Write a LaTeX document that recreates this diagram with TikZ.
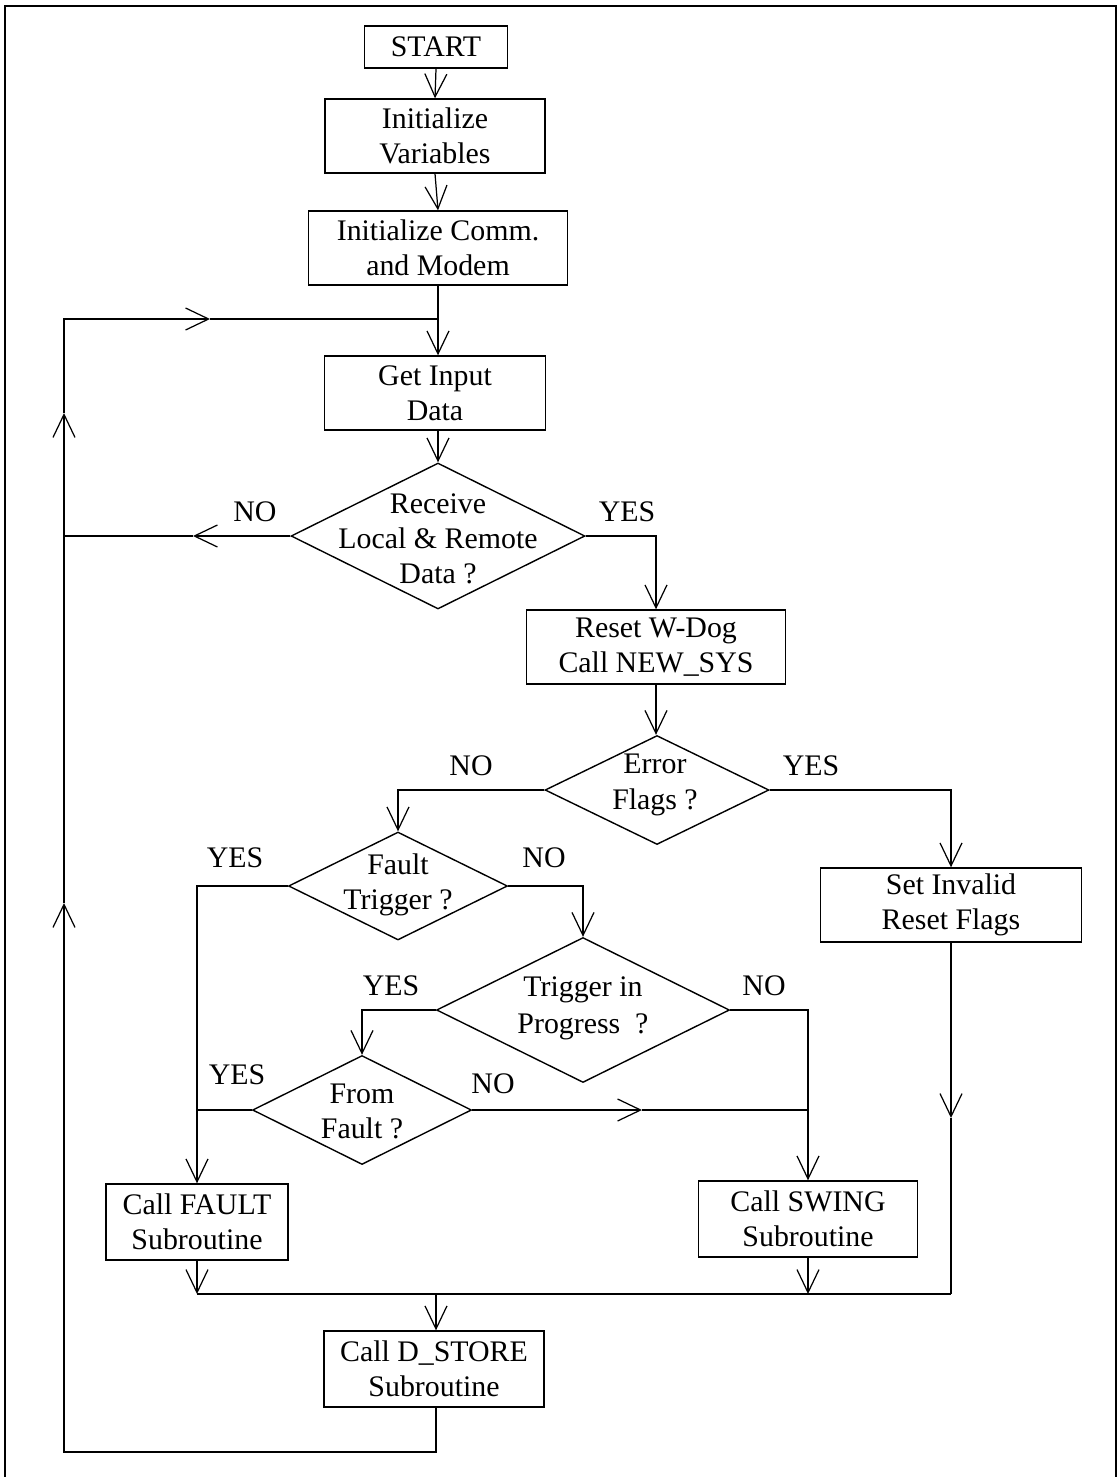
\documentclass[tikz,border=0pt]{standalone}
\usepackage{fontspec}
\setmainfont{Liberation Serif}
\usetikzlibrary{arrows.meta,shapes.geometric}

\begin{document}
\begin{tikzpicture}[
  x=0.02cm,y=-0.02cm,
  font=\fontsize{17}{20}\selectfont,
  line/.style={line width=0.7pt, draw=black},
  flow/.style={line, -{Straight Barb[length=4.6mm,width=4.4mm]}},
  box/.style={draw, line width=0.8pt, align=center, inner sep=2pt,
    minimum height=1.48cm},
  decision/.style={draw, line width=0.8pt, shape=diamond, inner sep=0pt},
  dtext/.style={align=center},
  answer/.style={}
]

% Frame and page
\useasboundingbox (0,0) rectangle (1118,1477);
\draw[line width=0.9pt] (5,1485) -- (5,6) -- (1116,6) -- (1116,1485);

% Start-up
\node[box, minimum width=2.86cm, minimum height=0.84cm] (start) at (436,47) {START};
\node[box, minimum width=4.40cm] (initvar) at (435,136) {Initialize\\Variables};
\node[box, minimum width=5.18cm] (initcomm) at (438,248) {Initialize Comm.\\and Modem};
\node[box, minimum width=4.42cm] (getinput) at (435,393) {Get Input\\Data};

\draw[flow] (start.south) -- (initvar.north);
\draw[flow] (initvar.south) -- (initcomm.south |- initcomm.north);
\draw[flow] (initcomm.south) -- (initcomm.south |- getinput.north);

% Receive test
\node[decision, minimum width=5.88cm, minimum height=2.92cm] (receive) at (438,536) {};
\node[dtext] (receivetxt) at (438,539) {Receive\\Local \& Remote\\Data ?};
\node[answer] (recvno) at (255,512) {NO};
\node[answer] (recvyes) at (627,512) {YES};
\draw[flow] (getinput.south -| initcomm.south) -- (receive.north);

\node[box, minimum width=5.18cm] (resetdog) at (656,647) {Reset W-Dog\\Call NEW\_SYS};
\draw[flow] (receive.east) -| (resetdog.north);

% Error flags
\node[decision, minimum width=4.48cm, minimum height=2.18cm] (errflags) at (657,790) {};
\node[dtext] (errflagstxt) at (655,785) {Error\\Flags ?};
\node[answer] (errno) at (471,766) {NO};
\node[answer] (erryes) at (811,766) {YES};
\draw[flow] (resetdog.south) -- (resetdog.south |- errflags.north);

\node[box, minimum width=5.22cm] (setinvalid) at (951,905) {Set Invalid\\Reset Flags};
\draw[flow] (errflags.east) -| (setinvalid.north);

% Fault trigger
\node[decision, minimum width=4.38cm, minimum height=2.16cm] (faulttrig) at (398,886) {};
\node[dtext] (faulttrigtxt) at (398,885) {Fault\\Trigger ?};
\node[answer] (ftyes) at (235,858) {YES};
\node[answer] (ftno) at (544,858) {NO};
\draw[flow] (errflags.west) -| (faulttrig.north);

% Trigger in progress
\node[decision, minimum width=5.86cm, minimum height=2.90cm] (trigprog) at (583,1010) {};
\node[dtext] (trigprogtxt) at (583,1008) {Trigger in\\[1pt]Progress\enspace ?};
\node[answer] (tpyes) at (391,986) {YES};
\node[answer] (tpno) at (764,986) {NO};
\draw[flow] (faulttrig.east) -| (trigprog.north);

% From fault
\node[decision, minimum width=4.38cm, minimum height=2.18cm] (fromfault) at (362,1110) {};
\node[dtext] (fromfaulttxt) at (362,1111) {From\\Fault ?};
\node[answer] (ffyes) at (237,1075) {YES};
\node[answer] (ffno) at (493,1084) {NO};
\draw[flow] (trigprog.west) -| (fromfault.north);

% Subroutines
\node[box, minimum width=3.64cm, minimum height=1.52cm] (callfault) at (197,1222) {Call FAULT\\Subroutine};
\node[box, minimum width=4.38cm, minimum height=1.52cm] (callswing) at (808,1219) {Call SWING\\Subroutine};
\node[box, minimum width=4.40cm, minimum height=1.52cm] (dstore) at (434,1369) {Call D\_STORE\\Subroutine};

\draw[flow] (faulttrig.west) -| (callfault.north);
\draw[line] (fromfault.west) -- (fromfault.west -| callfault.north);
\draw[flow] (trigprog.east) -| (callswing.north);

\coordinate (nofault) at (642,1110);
\draw[flow] (fromfault.east) -- (nofault);
\draw[line] (nofault) -- (nofault -| callswing.north);

% Merge into D_STORE
\coordinate (merge) at (436,1294);
\coordinate (sidetip) at (951,1118);
\draw[flow] (callfault.south) -- (callfault.south |- merge);
\draw[flow] (callswing.south) -- (callswing.south |- merge);
\draw[flow] (setinvalid.south) -- (sidetip);
\draw[line] (sidetip) -- (sidetip |- merge);
\draw[line] (callfault.south |- merge) -- (setinvalid.south |- merge);
\draw[flow] (merge) -- (merge |- dstore.north);

% Return loop
\coordinate (loopbl) at (64,1452);
\coordinate (looptl) at (64,319);
\coordinate (uptipA) at (64,903);
\coordinate (uptipB) at (64,413);
\coordinate (righttip) at (210,319);
\coordinate (lefttip) at (193,536);
\draw[flow] (dstore.south -| merge) |- (loopbl) -- (uptipA);
\draw[flow] (uptipA) -- (uptipB);
\draw[flow] (uptipB) -- (looptl) -- (righttip);
\draw[line] (righttip) -- (righttip -| initcomm.south);
\draw[flow] (receive.west) -- (lefttip);
\draw[line] (lefttip) -- (lefttip -| looptl);

\end{tikzpicture}
\end{document}
